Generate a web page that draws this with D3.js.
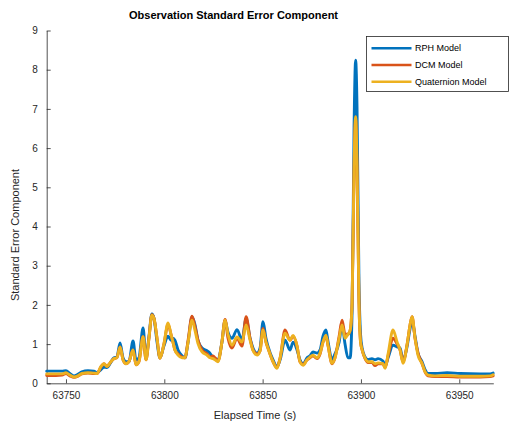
<!DOCTYPE html>
<html>
<head>
<meta charset="utf-8">
<script src="https://cdn.jsdelivr.net/npm/d3@7"></script>
<style>
  html, body { margin: 0; padding: 0; background: #ffffff; }
  svg { display: block; font-family: "Liberation Sans", Arial, Helvetica, sans-serif; }
</style>
</head>
<body>
<svg id="chart" width="514" height="424"></svg>
<script>
// Elapsed time samples (s)
const elapsed = [
  63740.2, 63744.9, 63748.0, 63750.0, 63752.0, 63754.1, 63756.1, 63758.1, 63761.2, 63764.2,
  63765.8, 63767.8, 63769.3, 63770.9, 63772.4, 63774.4, 63775.9, 63777.5, 63779.0, 63780.5,
  63782.0, 63784.1, 63785.6, 63787.1, 63789.2, 63790.7, 63792.2, 63793.7, 63794.8, 63796.3,
  63797.8, 63799.8, 63801.9, 63803.4, 63804.4, 63805.4, 63807.0, 63809.0, 63810.5, 63812.1,
  63814.1, 63815.6, 63817.1, 63819.2, 63821.7, 63823.2, 63824.8, 63825.8, 63827.3, 63829.3,
  63830.9, 63832.4, 63834.4, 63837.0, 63839.5, 63841.6, 63843.6, 63845.1, 63847.2, 63848.7,
  63850.2, 63851.7, 63852.7, 63855.3, 63857.3, 63858.9, 63861.4, 63863.9, 63865.5, 63867.5,
  63869.0, 63870.6, 63872.6, 63874.1, 63875.6, 63877.7, 63879.2, 63880.7, 63882.2, 63883.3,
  63885.3, 63886.8, 63888.9, 63890.4, 63891.9, 63893.4, 63894.5, 63895.5, 63896.5, 63897.3,
  63898.0, 63899.0, 63899.8, 63900.6, 63902.1, 63903.6, 63905.6, 63907.2, 63908.7, 63911.2,
  63912.3, 63913.8, 63916.3, 63918.4, 63919.9, 63921.4, 63923.5, 63925.0, 63926.0, 63927.5,
  63929.0, 63931.1, 63932.6, 63934.1, 63937.7, 63943.8, 63950.4, 63960.6, 63965.7, 63967.2
];

// Standard error component, roll-pitch-heading model
const rphModel = [
  0.31, 0.31, 0.31, 0.32, 0.25, 0.19, 0.23, 0.29, 0.32, 0.31,
  0.27, 0.35, 0.41, 0.40, 0.50, 0.65, 0.67, 1.03, 0.65, 0.55,
  0.55, 1.08, 0.60, 0.65, 1.41, 0.65, 1.20, 1.77, 1.65, 1.05,
  0.65, 0.95, 1.20, 1.10, 1.15, 1.10, 0.85, 0.70, 0.65, 1.05,
  1.69, 1.50, 1.10, 0.90, 0.83, 0.77, 0.65, 0.63, 0.60, 1.05,
  1.60, 1.30, 1.15, 1.37, 1.10, 1.65, 1.15, 0.90, 0.77, 0.90,
  1.57, 1.15, 0.95, 0.60, 0.43, 0.60, 1.10, 0.85, 1.05, 0.85,
  0.60, 0.50, 0.65, 0.70, 0.80, 0.77, 0.85, 1.20, 1.36, 1.05,
  0.60, 0.75, 1.05, 1.49, 1.00, 0.65, 0.65, 1.85, 6.55, 8.24,
  7.05, 2.55, 1.25, 0.90, 0.67, 0.60, 0.63, 0.60, 0.63, 0.57,
  0.45, 0.65, 0.97, 0.93, 0.90, 0.60, 0.95, 1.40, 1.60, 1.20,
  0.77, 0.55, 0.35, 0.25, 0.25, 0.27, 0.25, 0.24, 0.24, 0.26
];

// Standard error component, direction cosine matrix model
const dcmModel = [
  0.20, 0.20, 0.21, 0.25, 0.19, 0.15, 0.18, 0.24, 0.26, 0.25,
  0.25, 0.42, 0.50, 0.43, 0.52, 0.63, 0.65, 0.93, 0.60, 0.50,
  0.55, 0.85, 0.47, 0.55, 1.19, 0.60, 1.15, 1.75, 1.65, 1.15,
  0.64, 1.00, 1.50, 1.25, 1.05, 0.85, 0.75, 0.67, 0.65, 1.10,
  1.71, 1.45, 1.10, 0.85, 0.75, 0.67, 0.70, 0.65, 0.57, 1.05,
  1.63, 1.15, 0.90, 1.15, 0.95, 1.70, 1.15, 0.85, 0.75, 0.83,
  1.40, 1.05, 0.90, 0.55, 0.40, 0.65, 1.36, 1.10, 1.20, 0.95,
  0.55, 0.48, 0.60, 0.65, 0.70, 0.63, 0.75, 1.05, 1.20, 0.95,
  0.50, 0.65, 1.20, 1.61, 1.25, 1.25, 1.35, 2.05, 5.45, 6.74,
  5.55, 2.05, 1.05, 0.85, 0.63, 0.53, 0.53, 0.45, 0.50, 0.50,
  0.40, 0.70, 1.15, 1.00, 0.85, 0.55, 1.00, 1.50, 1.70, 1.15,
  0.77, 0.50, 0.29, 0.19, 0.17, 0.17, 0.16, 0.16, 0.17, 0.19
];

// Standard error component, quaternion model
const quaternionModel = [
  0.24, 0.24, 0.24, 0.27, 0.21, 0.16, 0.19, 0.25, 0.27, 0.26,
  0.25, 0.43, 0.50, 0.43, 0.52, 0.63, 0.65, 0.93, 0.60, 0.50,
  0.55, 0.85, 0.47, 0.55, 1.19, 0.60, 1.15, 1.74, 1.65, 1.15,
  0.64, 1.00, 1.54, 1.25, 1.05, 0.85, 0.72, 0.65, 0.65, 1.05,
  1.61, 1.35, 1.02, 0.80, 0.72, 0.65, 0.63, 0.60, 0.55, 1.05,
  1.61, 1.25, 0.97, 1.18, 1.05, 1.49, 1.10, 0.84, 0.72, 0.83,
  1.36, 1.05, 0.90, 0.55, 0.38, 0.65, 1.28, 1.10, 1.22, 0.95,
  0.55, 0.46, 0.60, 0.67, 0.72, 0.65, 0.77, 1.05, 1.23, 0.95,
  0.51, 0.65, 1.15, 1.49, 1.15, 1.25, 1.35, 2.05, 5.55, 6.80,
  5.55, 2.05, 1.05, 0.85, 0.64, 0.55, 0.55, 0.50, 0.52, 0.50,
  0.38, 0.75, 1.36, 1.05, 0.85, 0.51, 1.00, 1.50, 1.70, 1.15,
  0.72, 0.50, 0.29, 0.21, 0.19, 0.20, 0.18, 0.18, 0.19, 0.22
];

const seriesNames = ["RPH Model", "DCM Model", "Quaternion Model"];
const seriesColors = ["#0072BD", "#D95319", "#EDB120"];
const xTicks = [63750, 63800, 63850, 63900, 63950];
const yTicks = [0, 1, 2, 3, 4, 5, 6, 7, 8, 9];

const svg = d3.select("#chart");
const axisColor = "#262626";

const x = d3.scaleLinear().domain([63740.2, 63967.3]).range([46.7, 493.3]);
const y = d3.scaleLinear().domain([0, 9]).range([383.3, 30.5]);

// Axes (ticks point inward)
const xAxis = svg.append("g")
  .attr("transform", `translate(0,${y(0)})`)
  .call(d3.axisBottom(x).tickValues(xTicks).tickFormat(d3.format("d")).tickSizeInner(-4).tickSizeOuter(0).tickPadding(9));
const yAxis = svg.append("g")
  .attr("transform", `translate(${x.range()[0]},0)`)
  .call(d3.axisLeft(y).tickValues(yTicks).tickFormat(d3.format("d")).tickSizeInner(-4).tickSizeOuter(0).tickPadding(9));

[xAxis, yAxis].forEach(g => {
  g.select(".domain").attr("stroke", axisColor).attr("stroke-width", 0.8);
  g.selectAll(".tick line").attr("stroke", axisColor).attr("stroke-width", 0.8);
  g.selectAll(".tick text").attr("fill", axisColor).attr("font-size", 10)
    .attr("font-family", "'Liberation Sans', Arial, sans-serif");
});

// Data lines
const series = [rphModel, dcmModel, quaternionModel];
const line = d3.line()
  .x((d, i) => x(elapsed[i]))
  .y(d => y(d))
  .curve(d3.curveMonotoneX);

svg.append("g").selectAll("path")
  .data(series)
  .join("path")
  .attr("d", d => line(d))
  .attr("fill", "none")
  .attr("stroke", (d, i) => seriesColors[i])
  .attr("stroke-width", 2.9)
  .attr("stroke-linejoin", "round")
  .attr("stroke-linecap", "round");

// Title and axis labels
svg.append("text")
  .attr("x", 233.5).attr("y", 19)
  .attr("text-anchor", "middle")
  .attr("font-size", 11).attr("font-weight", "bold")
  .attr("fill", "#000")
  .text("Observation Standard Error Component");

svg.append("text")
  .attr("x", 255).attr("y", 419)
  .attr("text-anchor", "middle")
  .attr("font-size", 11)
  .attr("fill", axisColor)
  .text("Elapsed Time (s)");

svg.append("text")
  .attr("transform", "translate(19,235) rotate(-90)")
  .attr("text-anchor", "middle")
  .attr("font-size", 11)
  .attr("fill", axisColor)
  .text("Standard Error Component");

// Legend
const legend = svg.append("g");
legend.append("rect")
  .attr("x", 366.5).attr("y", 36.5).attr("width", 142).attr("height", 55)
  .attr("fill", "#fff").attr("stroke", axisColor).attr("stroke-width", 0.8);
const legendRows = legend.selectAll("g.row")
  .data(seriesNames)
  .join("g")
  .attr("class", "row")
  .attr("transform", (d, i) => `translate(0,${48.3 + i * 16.7})`);
legendRows.append("line")
  .attr("x1", 371.5).attr("x2", 411.5)
  .attr("stroke", (d, i) => seriesColors[i])
  .attr("stroke-width", 2.4);
legendRows.append("text")
  .attr("x", 415).attr("y", 3)
  .attr("font-size", 9)
  .attr("fill", "#000")
  .text(d => d);
</script>
</body>
</html>
